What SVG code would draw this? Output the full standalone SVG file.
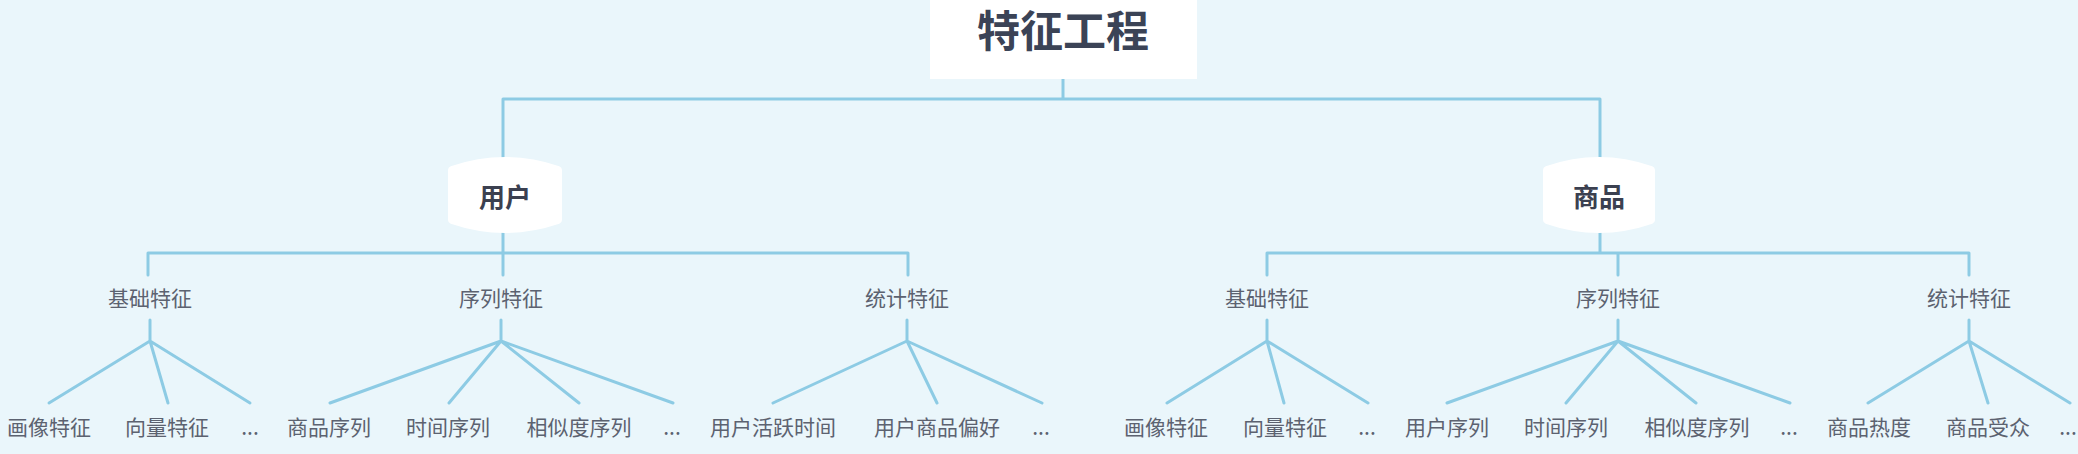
<svg xmlns="http://www.w3.org/2000/svg" width="2078" height="454" viewBox="0 0 2078 454">
<style>
text{font-family:"Noto Sans CJK SC","Noto Sans",sans-serif;text-anchor:middle;dominant-baseline:central}
.root{font-size:43px;font-weight:bold;fill:#3b4356}
.l1{font-size:26px;font-weight:bold;fill:#3b4050}
.l2{font-size:21px;fill:#5c6270}
.leaf{font-size:21px;fill:#5c6270}
.c{fill:none;stroke:#8dcbe4;stroke-width:3;stroke-linecap:round;stroke-linejoin:round}
.box{fill:#ffffff}
.pill{fill:#ffffff;stroke:#ffffff;stroke-width:8;stroke-linejoin:round}
</style>
<rect x="0" y="0" width="2078" height="454" fill="#eaf6fb"/>
<g id="connectors" class="c">
<path d="M1063,79 V99 M503,99 H1600 M503,99 V158 M1600,99 V158"/>
<path d="M503,232 V253 M148,253 H908 M148,253 V275 M503,253 V275 M908,253 V275"/>
<path d="M1600,232 V253 M1267,253 H1969 M1267,253 V275 M1618,253 V275 M1969,253 V275"/>
<path d="M150,320 V341 L49,403 M150,341 L168,403 M150,341 L250,403"/>
<path d="M501,320 V341 L330,403 M501,341 L449,403 M501,341 L579,403 M501,341 L673,403"/>
<path d="M907,320 V341 L773,403 M907,341 L937,403 M907,341 L1042,403"/>
<path d="M1267,320 V341 L1167,403 M1267,341 L1284,403 M1267,341 L1368,403"/>
<path d="M1618,320 V341 L1447,403 M1618,341 L1566,403 M1618,341 L1696,403 M1618,341 L1790,403"/>
<path d="M1969,320 V341 L1868,403 M1969,341 L1988,403 M1969,341 L2070,403"/>
</g>
<g id="root"><rect class="box" x="930" y="-5" width="267" height="84"/><text class="root" x="1063" y="28">特征工程</text></g>
<g id="user"><path class="pill" d="M452,170 Q505,152 558,170 L558,220 Q505,238 452,220 Z"/><text class="l1" x="505" y="195">用户</text></g>
<g id="item"><path class="pill" d="M1547,170 Q1599,152 1651,170 L1651,220 Q1599,238 1547,220 Z"/><text class="l1" x="1599" y="195">商品</text></g>
<g id="u-basic"><text class="l2" x="150" y="297">基础特征</text></g>
<g id="u-seq"><text class="l2" x="501" y="297">序列特征</text></g>
<g id="u-stat"><text class="l2" x="907" y="297">统计特征</text></g>
<g id="i-basic"><text class="l2" x="1267" y="297">基础特征</text></g>
<g id="i-seq"><text class="l2" x="1618" y="297">序列特征</text></g>
<g id="i-stat"><text class="l2" x="1969" y="297">统计特征</text></g>
<g id="u-b1"><text class="leaf" x="49" y="426">画像特征</text></g>
<g id="u-b2"><text class="leaf" x="167" y="426">向量特征</text></g>
<g id="u-b3"><text class="leaf" x="250" y="426">...</text></g>
<g id="u-s1"><text class="leaf" x="329" y="426">商品序列</text></g>
<g id="u-s2"><text class="leaf" x="448" y="426">时间序列</text></g>
<g id="u-s3"><text class="leaf" x="579" y="426">相似度序列</text></g>
<g id="u-s4"><text class="leaf" x="672" y="426">...</text></g>
<g id="u-t1"><text class="leaf" x="773" y="426">用户活跃时间</text></g>
<g id="u-t2"><text class="leaf" x="937" y="426">用户商品偏好</text></g>
<g id="u-t3"><text class="leaf" x="1041" y="426">...</text></g>
<g id="i-b1"><text class="leaf" x="1166" y="426">画像特征</text></g>
<g id="i-b2"><text class="leaf" x="1285" y="426">向量特征</text></g>
<g id="i-b3"><text class="leaf" x="1367" y="426">...</text></g>
<g id="i-s1"><text class="leaf" x="1447" y="426">用户序列</text></g>
<g id="i-s2"><text class="leaf" x="1566" y="426">时间序列</text></g>
<g id="i-s3"><text class="leaf" x="1697" y="426">相似度序列</text></g>
<g id="i-s4"><text class="leaf" x="1789" y="426">...</text></g>
<g id="i-t1"><text class="leaf" x="1869" y="426">商品热度</text></g>
<g id="i-t2"><text class="leaf" x="1988" y="426">商品受众</text></g>
<g id="i-t3"><text class="leaf" x="2068" y="426">...</text></g>
</svg>
